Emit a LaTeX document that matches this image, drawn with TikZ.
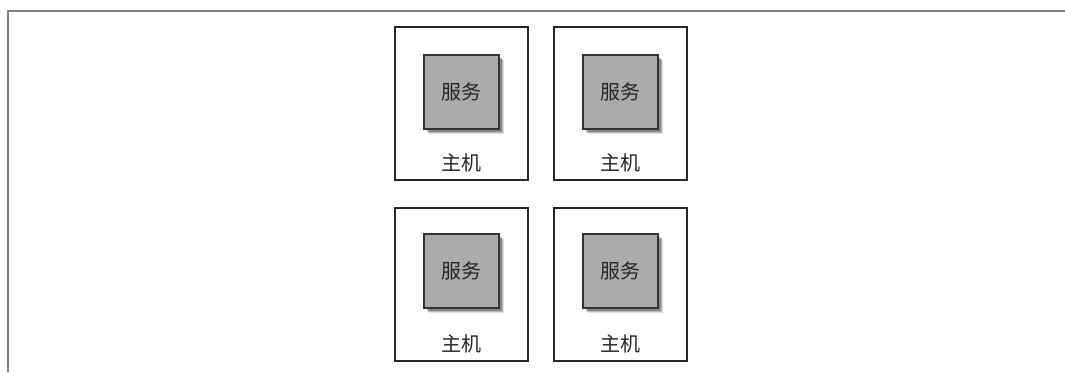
\documentclass[tikz,border=0pt]{standalone}
\usepackage{fontspec}
\newfontfamily\cjk{Noto Sans CJK SC}
\usetikzlibrary{shadows}
\begin{document}
\begin{tikzpicture}[x=1pt,y=-1pt,
  hostbox/.style={draw=black!85,line width=2pt,fill=white,minimum width=133pt,minimum height=153pt,inner sep=0pt},
  svcbox/.style={draw=black!80,line width=2pt,fill=black!33,minimum width=75pt,minimum height=74pt,inner sep=0pt,
    general shadow={shadow xshift=5pt,shadow yshift=-5pt,fill=black,opacity=0.12},
    general shadow={shadow xshift=4pt,shadow yshift=-4pt,fill=black,opacity=0.18},
    general shadow={shadow xshift=3pt,shadow yshift=-3pt,fill=black,opacity=0.25},
    font=\cjk\fontsize{20}{24}\selectfont,text=black!85},
  hostlabel/.style={font=\cjk\fontsize{20}{24}\selectfont,text=black!85,inner sep=0pt},
  frameline/.style={draw=black!50,line width=1.3pt}]
\useasboundingbox (0,0) rectangle (1065,372);
\coordinate (ftr) at (1065,11);
\coordinate (ftl) at (8,11);
\coordinate (fbl) at (8,372);
\draw[frameline] (ftr) -- (ftl) -- (fbl);
% hosts
\node[hostbox] (h1) at (461.5,103.5) {};
\node[hostbox] (h2) at (620,103.5) {};
\node[hostbox] (h3) at (461.5,284) {};
\node[hostbox] (h4) at (620,284) {};
% services
\node[svcbox] (s1) at (461.5,92) {服务};
\node[svcbox] (s2) at (620.5,92) {服务};
\node[svcbox] (s3) at (461.5,271) {服务};
\node[svcbox] (s4) at (620.5,271) {服务};
% labels
\node[hostlabel] (l1) at (461.5,163) {主机};
\node[hostlabel] (l2) at (620,163) {主机};
\node[hostlabel] (l3) at (461.5,344) {主机};
\node[hostlabel] (l4) at (620,344) {主机};
\end{tikzpicture}
\end{document}
